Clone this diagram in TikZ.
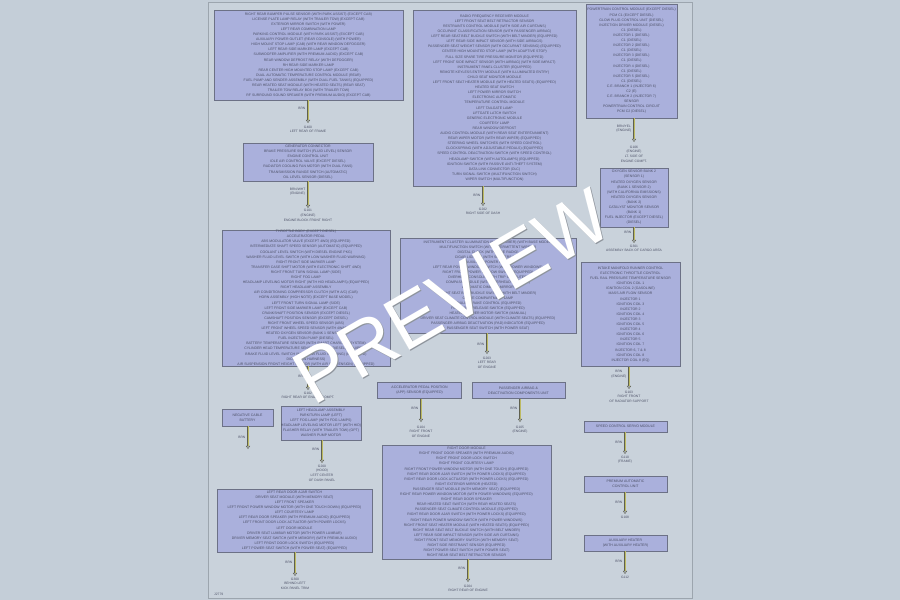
\documentclass[tikz,border=0pt]{standalone}
\usepackage{fontspec}
\setmainfont{Liberation Sans}
\usetikzlibrary{shapes.geometric}
\definecolor{outerbg}{HTML}{C4CED8}
\definecolor{pagebg}{HTML}{C9D2DB}
\definecolor{pageedge}{HTML}{9CA5AE}
\definecolor{boxfill}{HTML}{AAB0DC}
\definecolor{boxedge}{HTML}{6C7186}
\definecolor{txt}{HTML}{4C5066}
\definecolor{wireyel}{HTML}{BDBA62}
\definecolor{wiredark}{HTML}{5E6050}
\definecolor{wmedge}{HTML}{8E949C}
\newcommand\bxfont{\fontsize{3.5}{5.1}\selectfont}
\newcommand\lbfont{\fontsize{3.3}{4.6}\selectfont}
\newcommand\wmfont{\fontsize{76}{76}\selectfont}
\tikzset{
  cbox/.style={draw=boxedge, fill=boxfill, line width=0.6pt, inner sep=0pt, align=center, text=txt, font=\bxfont},
  wire/.style={draw=wiredark, line width=0.35pt, double=wireyel, double distance=0.9pt},
  gnd/.style={isosceles triangle, isosceles triangle apex angle=70, shape border rotate=-90, draw=wiredark, fill=pagebg, line width=0.4pt, minimum height=2.6pt, minimum width=3pt, inner sep=0pt},
  lbl/.style={font=\lbfont, text=txt, align=center, inner sep=0pt},
}
\begin{document}
\begin{tikzpicture}[x=1pt,y=-1pt]
\useasboundingbox (0,0) rectangle (900,600);
\fill[outerbg] (0,0) rectangle (900,600);
\draw[pageedge, fill=pagebg, line width=0.8pt] (208,2) rectangle (692,598);

% ---------- column 1 ----------
\node[cbox, minimum width=189pt, minimum height=90pt] (A) at (308.5,55) {RIGHT REAR BUMPER PULSE SENSOR (WITH PARK ASSIST) (EXCEPT CAB)\\
LICENSE PLATE LAMP RELAY (WITH TRAILER TOW) (EXCEPT CAB)\\
EXTERIOR MIRROR SWITCH (WITH POWER)\\
LEFT REAR COMBINATION LAMP\\
PARKING CONTROL MODULE (WITH PARK ASSIST) (EXCEPT CAB)\\
AUXILIARY POWER OUTLET (REAR CONSOLE) (WITH POWER)\\
HIGH MOUNT STOP LAMP (CAB) (WITH REAR WINDOW DEFOGGER)\\
LEFT REAR SIDE MARKER LAMP (EXCEPT CAB)\\
SUBWOOFER AMPLIFIER (WITH PREMIUM AUDIO) (EXCEPT CAB)\\
REAR WINDOW DEFROST RELAY (WITH DEFOGGER)\\
RH REAR SIDE MARKER LAMP\\
REAR CENTER HIGH MOUNTED STOP LAMP (EXCEPT CAB)\\
DUAL AUTOMATIC TEMPERATURE CONTROL MODULE (REAR)\\
FUEL PUMP AND SENDER ASSEMBLY (WITH DUAL FUEL TANKS) (EQUIPPED)\\
REAR HEATED SEAT MODULE (WITH HEATED SEATS) (REAR SEAT)\\
TRAILER TOW RELAY BOX (WITH TRAILER TOW)\\
RF SURROUND SOUND SPEAKER (WITH PREMIUM AUDIO) (EXCEPT CAB)};
\node[gnd] (gA) at (308,121) {};
\draw[wire] (gA |- A.south) -- (gA.north);
\node[lbl, anchor=east] (wA) at (305.5,108) {BRN};
\node[lbl, anchor=north] (tA) at (308,125.8) {G400\\LEFT REAR OF FRAME};

\node[cbox, minimum width=130pt, minimum height=38pt] (B) at (308,162) {GENERATOR CONNECTOR\\
BRAKE PRESSURE SWITCH (FLUID LEVEL) SENSOR\\
ENGINE CONTROL UNIT\\
IDLE AIR CONTROL VALVE (EXCEPT DIESEL)\\
RADIATOR COOLING FAN MOTOR (WITH DUAL FANS)\\
TRANSMISSION RANGE SWITCH (AUTOMATIC)\\
OIL LEVEL SENSOR (DIESEL)};
\node[gnd] (gB) at (308,206) {};
\draw[wire] (gB |- B.south) -- (gB.north);
\node[lbl, anchor=east] (wB) at (305.5,191.5) {BRN/WHT\\(ENGINE)};
\node[lbl, anchor=north] (tB) at (308,209.3) {G101\\(ENGINE)\\ENGINE BLOCK FRONT RIGHT};

\node[cbox, minimum width=168pt, minimum height=136pt] (C) at (306,298) {THROTTLE BODY (EXCEPT DIESEL)\\
ACCELERATOR PEDAL\\
ABS MODULATOR VALVE (EXCEPT 4WD) (EQUIPPED)\\
INTERMEDIATE SHAFT SPEED SENSOR (AUTOMATIC) (EQUIPPED)\\
COOLANT LEVEL SWITCH (WITH DIESEL ENGINE PKG)\\
WASHER FLUID LEVEL SWITCH (WITH LOW WASHER FLUID WARNING)\\
RIGHT FRONT SIDE MARKER LAMP\\
TRANSFER CASE SHIFT MOTOR (WITH ELECTRONIC SHIFT 4WD)\\
RIGHT FRONT TURN SIGNAL LAMP (SIDE)\\
RIGHT FOG LAMP\\
HEADLAMP LEVELING MOTOR RIGHT (WITH HID HEADLAMPS) (EQUIPPED)\\
RIGHT HEADLAMP ASSEMBLY\\
AIR CONDITIONING COMPRESSOR CLUTCH (WITH A/C) (CAB)\\
HORN ASSEMBLY (HIGH NOTE) (EXCEPT BASE MODEL)\\
LEFT FRONT TURN SIGNAL LAMP (SIDE)\\
LEFT FRONT SIDE MARKER LAMP (EXCEPT CAB)\\
CRANKSHAFT POSITION SENSOR (EXCEPT DIESEL)\\
CAMSHAFT POSITION SENSOR (EXCEPT DIESEL)\\
RIGHT FRONT WHEEL SPEED SENSOR (ABS)\\
LEFT FRONT WHEEL SPEED SENSOR (WITH 4WABS)\\
HEATED OXYGEN SENSOR (BANK 1 SENSOR 1)\\
FUEL INJECTION PUMP (DIESEL)\\
BATTERY TEMPERATURE SENSOR (WITH SMART CHARGING SYSTEM)\\
CYLINDER HEAD TEMPERATURE SENSOR (EXCEPT DIESEL) (EQUIPPED)\\
BRAKE FLUID LEVEL SWITCH (WITH LOW FLUID WARNING) (EQUIPPED)\\
DIODE 4 (IN HARNESS)\\
AIR SUSPENSION FRONT HEIGHT SENSOR (WITH AIR SUSPENSION) (EQUIPPED)};
\node[gnd] (gC) at (308,388) {};
\draw[wire] (gC |- C.south) -- (gC.north);
\node[lbl, anchor=east] (wC) at (305.5,376) {BRN};
\node[lbl, anchor=north] (tC) at (308,391.8) {G102\\RIGHT REAR OF ENGINE COMPT.};

\node[cbox, minimum width=51pt, minimum height=17pt] (D) at (247.5,417.5) {NEGATIVE CABLE\\BATTERY};
\node[gnd] (gD) at (248,447) {};
\draw[wire] (gD |- D.south) -- (gD.north);
\node[lbl, anchor=east] (wD) at (245.5,437) {BRN};

\node[cbox, minimum width=74pt, minimum height=34pt] (E) at (321,423) {LEFT HEADLAMP ASSEMBLY\\
PARK/TURN LAMP (LEFT)\\
LEFT FOG LAMP (WITH FOG LAMPS)\\
HEADLAMP LEVELING MOTOR LEFT (WITH HID)\\
FLASHER RELAY (WITH TRAILER TOW) (OPT)\\
WASHER PUMP MOTOR};
\node[gnd] (gE) at (322,461) {};
\draw[wire] (gE |- E.south) -- (gE.north);
\node[lbl, anchor=east] (wE) at (319.5,449) {BRN};
\node[lbl, anchor=north] (tE) at (322,464.8) {G200\\(HOOD)\\LEFT CENTER\\OF DASH PANEL};

\node[cbox, minimum width=155pt, minimum height=63pt] (F) at (294.5,520.5) {LEFT REAR DOOR AJAR SWITCH\\
DRIVER SEAT MODULE (WITH MEMORY SEAT)\\
LEFT FRONT SPEAKER\\
LEFT FRONT POWER WINDOW MOTOR (WITH ONE TOUCH DOWN) (EQUIPPED)\\
LEFT COURTESY LAMP\\
LEFT REAR DOOR SPEAKER (WITH PREMIUM AUDIO) (EQUIPPED)\\
LEFT FRONT DOOR LOCK ACTUATOR (WITH POWER LOCKS)\\
LEFT DOOR MODULE\\
DRIVER SEAT LUMBAR MOTOR (WITH POWER LUMBAR)\\
DRIVER MEMORY SEAT SWITCH (WITH MEMORY) (WITH PREMIUM AUDIO)\\
LEFT FRONT DOOR LOCK SWITCH (EQUIPPED)\\
LEFT POWER SEAT SWITCH (WITH POWER SEAT) (EQUIPPED)};
\node[gnd] (gF) at (295,574) {};
\draw[wire] (gF |- F.south) -- (gF.north);
\node[lbl, anchor=east] (wF) at (292.5,562) {BRN};
\node[lbl, anchor=north] (tF) at (295,577.8) {G300\\BEHIND LEFT\\KICK PANEL TRIM};

\node[lbl, anchor=west] (ref) at (214,594.5) {J2779};

% ---------- column 2 ----------
\node[cbox, minimum width=163pt, minimum height=176pt] (G) at (494.5,98) {RADIO FREQUENCY RECEIVER MODULE\\
LEFT FRONT SEAT BELT RETRACTOR SENSOR\\
RESTRAINTS CONTROL MODULE (WITH SIDE AIR CURTAINS)\\
OCCUPANT CLASSIFICATION SENSOR (WITH PASSENGER AIRBAG)\\
LEFT REAR SEAT BELT BUCKLE SWITCH (WITH BELT MINDER) (EQUIPPED)\\
LEFT REAR SIDE IMPACT SENSOR (WITH SIDE AIRBAGS)\\
PASSENGER SEAT WEIGHT SENSOR (WITH OCCUPANT SENSING) (EQUIPPED)\\
CENTER HIGH MOUNTED STOP LAMP (WITH ADAPTIVE STOP)\\
FULL SIZE SPARE TIRE PRESSURE MONITOR (EQUIPPED)\\
LEFT FRONT SIDE IMPACT SENSOR (WITH AIRBAG) (WITH SIDE IMPACT)\\
INSTRUMENT PANEL CLUSTER (EQUIPPED)\\
REMOTE KEYLESS ENTRY MODULE (WITH ILLUMINATED ENTRY)\\
CHILD SEAT MONITOR MODULE\\
LEFT FRONT SEAT HEATER MODULE (WITH HEATED SEATS) (EQUIPPED)\\
HEATED SEAT SWITCH\\
LEFT POWER MIRROR SWITCH\\
ELECTRONIC AUTOMATIC\\
TEMPERATURE CONTROL MODULE\\
LEFT TAILGATE LAMP\\
LIFTGATE LATCH SWITCH\\
GENERIC ELECTRONIC MODULE\\
COURTESY LAMP\\
REAR WINDOW DEFROST\\
AUDIO CONTROL MODULE (WITH REAR SEAT ENTERTAINMENT)\\
REAR WIPER MOTOR (WITH REAR WIPER) (EQUIPPED)\\
STEERING WHEEL SWITCHES (WITH SPEED CONTROL)\\
CLOCKSPRING (WITH ADJUSTABLE PEDALS) (EQUIPPED)\\
SPEED CONTROL DEACTIVATION SWITCH (WITH SPEED CONTROL)\\
HEADLAMP SWITCH (WITH AUTOLAMPS) (EQUIPPED)\\
IGNITION SWITCH (WITH PASSIVE ANTI-THEFT SYSTEM)\\
DATA LINK CONNECTOR (DLC)\\
TURN SIGNAL SWITCH (MULTIFUNCTION SWITCH)\\
WIPER SWITCH (MULTIFUNCTION)};
\node[gnd] (gG) at (483,204) {};
\draw[wire] (gG |- G.south) -- (gG.north);
\node[lbl, anchor=east] (wG) at (480.5,195) {BRN};
\node[lbl, anchor=north] (tG) at (483,207.8) {G202\\RIGHT SIDE OF DASH};

\node[cbox, minimum width=176pt, minimum height=95pt] (H) at (488,285.5) {INSTRUMENT CLUSTER ILLUMINATION (WITH DIMMER) (WITH BASE MODEL)\\
MULTIFUNCTION SWITCH (WITH INTERMITTENT WIPERS)\\
DIGITAL CLOCK (WITH BASE RADIO)\\
CIGAR LIGHTER (WITH SMOKERS PKG)\\
AUXILIARY POWER POINT\\
LEFT REAR POWER WINDOW SWITCH (WITH POWER WINDOWS)\\
RIGHT FRONT POWER WINDOW SWITCH (EQUIPPED)\\
OVERHEAD CONSOLE (WITH TRIP COMPUTER)\\
COMPASS MODULE (WITH OVERHEAD CONSOLE)\\
AUTOMATIC DIMMING MIRROR\\
RIGHT SEAT BELT BUCKLE SWITCH (WITH BELT MINDER)\\
GLOVE COMPARTMENT LAMP\\
TRAILER BRAKE CONTROL (EQUIPPED)\\
FUEL DOOR RELEASE SWITCH (EQUIPPED)\\
HEATER BLOWER MOTOR SWITCH (MANUAL)\\
DRIVER SEAT CLIMATE CONTROL MODULE (WITH CLIMATE SEATS) (EQUIPPED)\\
PASSENGER AIRBAG DEACTIVATION (PAD) INDICATOR (EQUIPPED)\\
PASSENGER SEAT SWITCH (WITH POWER SEAT)};
\node[gnd] (gH) at (487,352) {};
\draw[wire] (gH |- H.south) -- (gH.north);
\node[lbl, anchor=east] (wH) at (484.5,344) {BRN};
\node[lbl, anchor=north] (tH) at (487,356.8) {G203\\LEFT REAR\\OF ENGINE};

\node[cbox, minimum width=84pt, minimum height=16pt] (I) at (419.5,390.5) {ACCELERATOR PEDAL POSITION\\(APP) SENSOR (EQUIPPED)};
\node[gnd] (gI) at (421,420) {};
\draw[wire] (gI |- I.south) -- (gI.north);
\node[lbl, anchor=east] (wI) at (418.5,408) {BRN};
\node[lbl, anchor=north] (tI) at (421,425.8) {G104\\RIGHT FRONT\\OF ENGINE};

\node[cbox, minimum width=93pt, minimum height=16pt] (J) at (518.5,390.5) {PASSENGER AIRBAG \&\\DEACTIVATION COMPONENTS UNIT};
\node[gnd] (gJ) at (520,420) {};
\draw[wire] (gJ |- J.south) -- (gJ.north);
\node[lbl, anchor=east] (wJ) at (517.5,408) {BRN};
\node[lbl, anchor=north] (tJ) at (520,425.8) {G105\\(ENGINE)};

\node[cbox, minimum width=169pt, minimum height=114pt] (K) at (466.5,502) {RIGHT DOOR MODULE\\
RIGHT FRONT DOOR SPEAKER (WITH PREMIUM AUDIO)\\
RIGHT FRONT DOOR LOCK SWITCH\\
RIGHT FRONT COURTESY LAMP\\
RIGHT FRONT POWER WINDOW MOTOR (WITH ONE TOUCH) (EQUIPPED)\\
RIGHT REAR DOOR AJAR SWITCH (WITH POWER LOCKS) (EQUIPPED)\\
RIGHT REAR DOOR LOCK ACTUATOR (WITH POWER LOCKS) (EQUIPPED)\\
RIGHT EXTERIOR MIRROR (HEATED)\\
PASSENGER SEAT MODULE (WITH MEMORY SEAT) (EQUIPPED)\\
RIGHT REAR POWER WINDOW MOTOR (WITH POWER WINDOWS) (EQUIPPED)\\
RIGHT REAR DOOR SPEAKER\\
REAR HEATED SEAT SWITCH (WITH REAR HEATED SEATS)\\
PASSENGER SEAT CLIMATE CONTROL MODULE (EQUIPPED)\\
RIGHT REAR DOOR AJAR SWITCH (WITH POWER LOCKS) (EQUIPPED)\\
RIGHT REAR POWER WINDOW SWITCH (WITH POWER WINDOWS)\\
RIGHT FRONT SEAT HEATER MODULE (WITH HEATED SEATS) (EQUIPPED)\\
RIGHT REAR SEAT BELT BUCKLE SWITCH (WITH BELT MINDER)\\
LEFT REAR SIDE IMPACT SENSOR (WITH SIDE AIR CURTAINS)\\
RIGHT FRONT SEAT MEMORY SWITCH (WITH MEMORY SEAT)\\
RIGHT SIDE RESTRAINT SENSOR (EQUIPPED)\\
RIGHT POWER SEAT SWITCH (WITH POWER SEAT)\\
RIGHT REAR SEAT BELT RETRACTOR SENSOR};
\node[gnd] (gK) at (468,580) {};
\draw[wire] (gK |- K.south) -- (gK.north);
\node[lbl, anchor=east] (wK) at (465.5,568) {BRN};
\node[lbl, anchor=north] (tK) at (468,584.8) {G204\\RIGHT REAR OF ENGINE};

% ---------- column 3 ----------
\node[cbox, minimum width=91pt, minimum height=114pt] (L) at (631.5,61) {POWERTRAIN CONTROL MODULE (EXCEPT DIESEL)\\
PCM C1 (EXCEPT DIESEL)\\
GLOW PLUG CONTROL UNIT (DIESEL)\\
INJECTION DRIVER MODULE (DIESEL)\\
C1 (DIESEL)\\
INJECTOR 1 (DIESEL)\\
C1 (DIESEL)\\
INJECTOR 2 (DIESEL)\\
C1 (DIESEL)\\
INJECTOR 3 (DIESEL)\\
C1 (DIESEL)\\
INJECTOR 4 (DIESEL)\\
C1 (DIESEL)\\
INJECTOR 5 (DIESEL)\\
C1 (DIESEL)\\
C.E. BRANCH 1 (INJECTOR 6)\\
C2 (E)\\
C.E. BRANCH 2 (INJECTOR 7)\\
SENSOR\\
POWERTRAIN CONTROL CIRCUIT\\
PCM C2 (DIESEL)};
\node[gnd] (gL) at (634,140) {};
\draw[wire] (gL |- L.south) -- (gL.north);
\node[lbl, anchor=east] (wL) at (631.5,128.5) {BRN/YEL\\(ENGINE)};
\node[lbl, anchor=north] (tL) at (634,145.8) {G106\\(ENGINE)\\LT. SIDE OF\\ENGINE COMPT.};

\node[cbox, minimum width=68pt, minimum height=59pt] (M) at (634,197.5) {OXYGEN SENSOR BANK 2\\
(SENSOR 1)\\
HEATED OXYGEN SENSOR\\
(BANK 1 SENSOR 2)\\
(WITH CALIFORNIA EMISSIONS)\\
HEATED OXYGEN SENSOR\\
(BANK 2)\\
CATALYST MONITOR SENSOR\\
(BANK 1)\\
FUEL INJECTOR (EXCEPT DIESEL)\\
(DIESEL)};
\node[gnd] (gM) at (634,241) {};
\draw[wire] (gM |- M.south) -- (gM.north);
\node[lbl, anchor=east] (wM) at (631.5,232) {BRN};
\node[lbl, anchor=north] (tM) at (634,244.8) {G301\\ASSEMBLY BACK OF CARGO AREA};

\node[cbox, minimum width=99pt, minimum height=104pt] (N) at (630.5,314.5) {INTAKE MANIFOLD RUNNER CONTROL\\
ELECTRONIC THROTTLE CONTROL\\
FUEL RAIL PRESSURE TEMPERATURE SENSOR\\
IGNITION COIL 1\\
IGNITION COIL 2 (GASOLINE)\\
MASS AIR FLOW SENSOR\\
INJECTOR 1\\
IGNITION COIL 3\\
INJECTOR 2\\
IGNITION COIL 4\\
INJECTOR 3\\
IGNITION COIL 5\\
INJECTOR 4\\
IGNITION COIL 6\\
INJECTOR 5\\
IGNITION COIL 7\\
INJECTOR 6, 7 \& 8\\
IGNITION COIL 8\\
INJECTOR COIL 8 (EQ)};
\node[gnd] (gN) at (629,387) {};
\draw[wire] (gN |- N.south) -- (gN.north);
\node[lbl, anchor=east] (wN) at (626.5,374.5) {BRN\\(ENGINE)};
\node[lbl, anchor=north] (tN) at (629,390.8) {G103\\RIGHT FRONT\\OF RADIATOR SUPPORT};

\node[cbox, minimum width=83pt, minimum height=11pt] (O) at (625.5,426.5) {SPEED CONTROL SERVO MODULE};
\node[gnd] (gO) at (625,452) {};
\draw[wire] (gO |- O.south) -- (gO.north);
\node[lbl, anchor=east] (wO) at (622.5,442) {BRN};
\node[lbl, anchor=north] (tO) at (625,455.8) {G110\\(FRAME)};

\node[cbox, minimum width=83pt, minimum height=16pt] (P) at (625.5,484) {PREMIUM AUTOMATIC\\CONTROL UNIT};
\node[gnd] (gP) at (625,512) {};
\draw[wire] (gP |- P.south) -- (gP.north);
\node[lbl, anchor=east] (wP) at (622.5,502) {BRN};
\node[lbl, anchor=north] (tP) at (625,516.3) {G108};

\node[cbox, minimum width=83pt, minimum height=16pt] (Q) at (625.5,543) {AUXILIARY HEATER\\(WITH AUXILIARY HEATER)};
\node[gnd] (gQ) at (625,572) {};
\draw[wire] (gQ |- Q.south) -- (gQ.north);
\node[lbl, anchor=east] (wQ) at (622.5,561) {BRN};
\node[lbl, anchor=north] (tQ) at (625,575.8) {G112};

% ---------- watermark ----------
\node[rotate=30, font=\wmfont, text=wmedge, inner sep=0pt] (wmshadow) at (453,297.5) {PREVIEW};
\node[rotate=30, font=\wmfont, text=white, inner sep=0pt] (wm) at (452,296.5) {PREVIEW};
\end{tikzpicture}
\end{document}
